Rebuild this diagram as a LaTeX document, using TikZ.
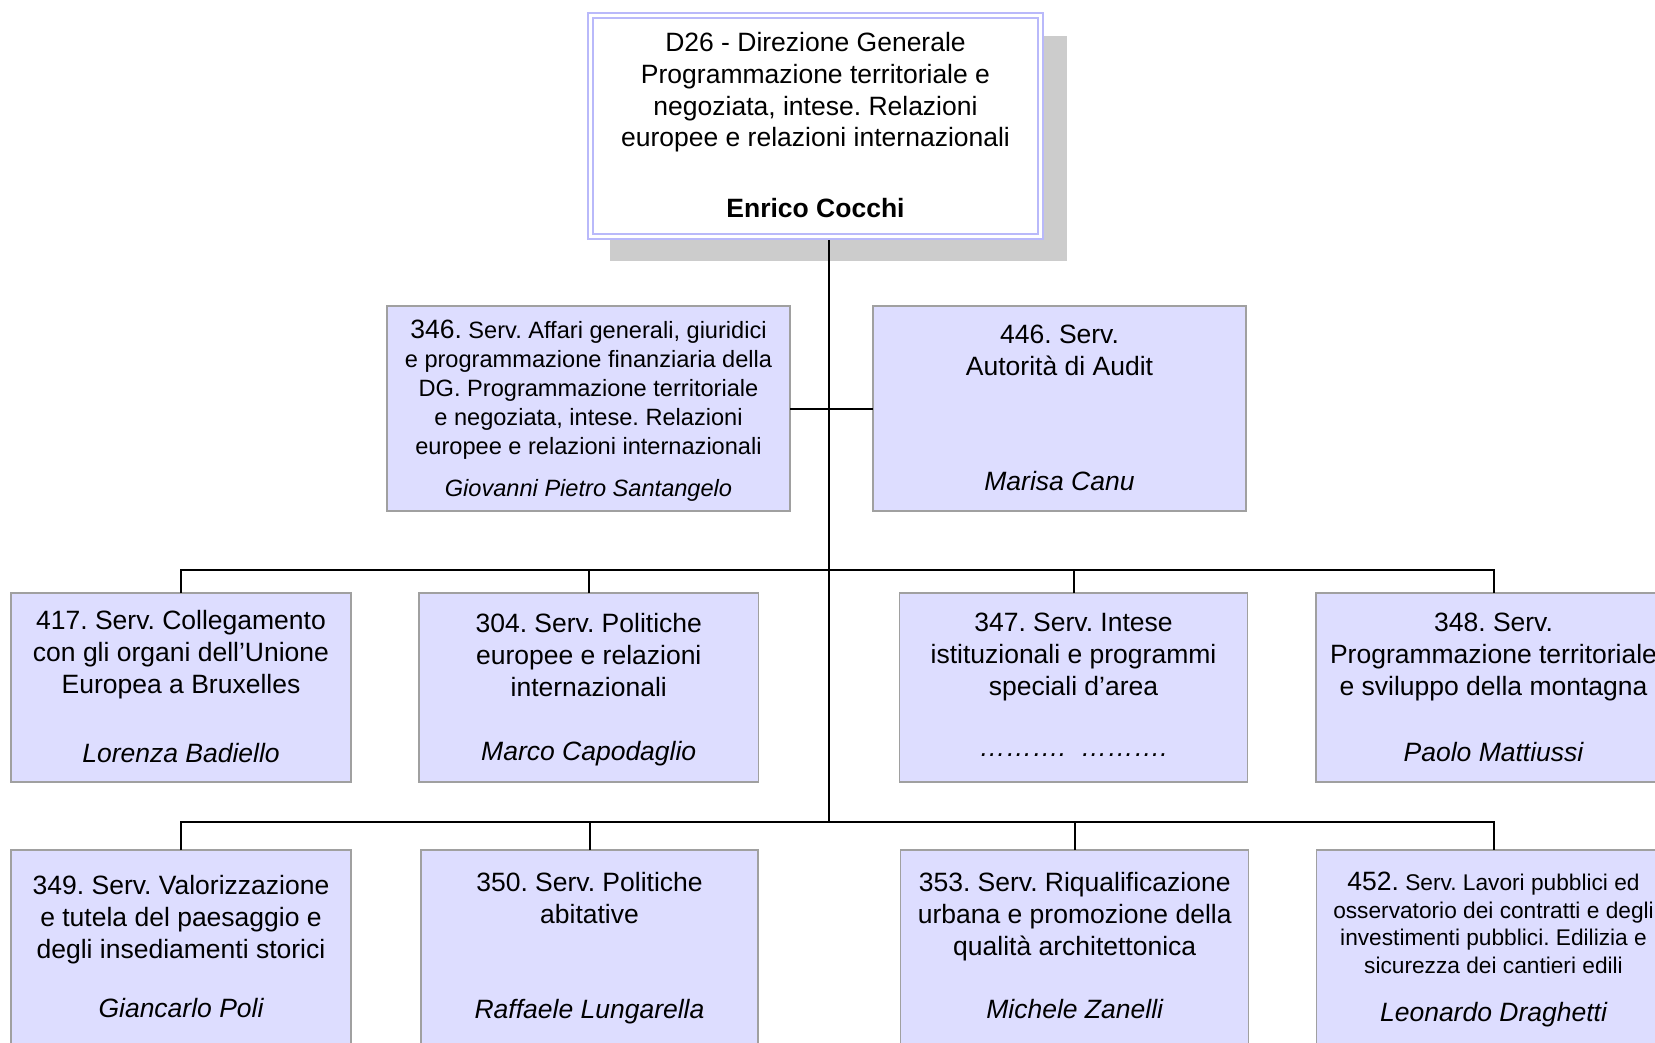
\documentclass[tikz,border=0pt]{standalone}
\usepackage{fontspec}
\setmainfont{Liberation Sans}
\frenchspacing
\usetikzlibrary{shadows}
\definecolor{unitfill}{RGB}{221,221,255}
\definecolor{unitline}{RGB}{160,160,160}
\definecolor{chiefline}{RGB}{185,185,250}
\definecolor{shadowgray}{RGB}{204,204,204}
\newcommand{\unitfont}{\fontsize{26.5}{31.8}\selectfont}
\newcommand{\notefont}{\fontsize{23.6}{29}\selectfont}
\newcommand{\finefont}{\fontsize{22.7}{27.8}\selectfont}
\tikzstyle{entry}=[draw=unitline, fill=unitfill, line width=1.5pt, inner sep=0pt, outer sep=0pt, anchor=north]
\tikzstyle{unit}=[entry, minimum width=340pt, minimum height=189pt]
\tikzstyle{lowunit}=[entry, minimum height=196pt]
\tikzstyle{chief}=[draw=chiefline, line width=2.3pt, double=white, double distance=2.4pt, fill=white, inner sep=0pt, outer sep=3.5pt, minimum width=450pt, minimum height=221pt, drop shadow={shadow xshift=23pt, shadow yshift=-22pt, shadow scale=1.016, fill=shadowgray, opacity=1}]
\tikzstyle{heading}=[anchor=north, align=center, inner sep=0pt, font=\unitfont]
\tikzstyle{holder}=[anchor=base, inner sep=0pt, font=\unitfont\itshape]
\tikzstyle{link}=[line width=2pt]

\begin{document}
\begin{tikzpicture}[x=1pt, y=-1pt]
\path[use as bounding box, fill=white] (0,0) rectangle (1655,1042);

\node (dg) [chief, label={[heading, yshift=-20pt]north:{D26 - Direzione Generale\\Programmazione territoriale e\\negoziata, intese. Relazioni\\europee e relazioni internazionali}}, label={[holder, font=\unitfont\bfseries, yshift=22.5pt]south:{Enrico Cocchi}}] at (815.5,126) {};

\node (s346) [entry, minimum width=403pt, minimum height=205pt, label={[heading, font=\notefont, yshift=-14pt]north:{{\unitfont 346.} Serv. Affari generali, giuridici\\e programmazione finanziaria della\\DG. Programmazione territoriale\\e negoziata, intese. Relazioni\\europee e relazioni internazionali}}, label={[holder, font=\notefont\itshape, yshift=15pt]south:{Giovanni Pietro Santangelo}}] at (588.5,306) {};
\node (s446) [entry, minimum width=373pt, minimum height=205pt, label={[heading, yshift=-19pt]north:{446. Serv.\\Autorità di Audit}}, label={[holder, yshift=20.5pt]south:{Marisa Canu}}] at (1059.5,306) {};

\node (s417) [unit, label={[heading, yshift=-17pt]north:{417. Serv. Collegamento\\con gli organi dell’Unione\\Europea a Bruxelles}}, label={[holder, yshift=20pt]south:{Lorenza Badiello}}] at (181,593) {};
\node (s304) [unit, minimum width=339.5pt, label={[heading, yshift=-20pt]north:{304. Serv. Politiche\\europee e relazioni\\internazionali}}, label={[holder, yshift=22pt]south:{Marco Capodaglio}}] at (588.75,593) {};
\node (s347) [unit, minimum width=348pt, label={[heading, yshift=-20pt]north:{347. Serv. Intese\\istituzionali e programmi\\speciali d’area}}, label={[holder, yshift=26pt]south:{………. \ ……….}}] at (1073.5,593) {};
\node (s348) [unit, minimum width=355pt, label={[heading, yshift=-20pt]north:{348. Serv.\\Programmazione territoriale\\e sviluppo della montagna}}, label={[holder, yshift=21pt]south:{Paolo Mattiussi}}] at (1493.5,593) {};

\node (s349) [lowunit, minimum width=340pt, label={[heading, yshift=-25pt]north:{349. Serv. Valorizzazione\\e tutela del paesaggio e\\degli insediamenti storici}}, label={[holder, yshift=29pt]south:{Giancarlo Poli}}] at (181,850) {};
\node (s350) [lowunit, minimum width=337pt, label={[heading, yshift=-22.5pt]north:{350. Serv. Politiche\\abitative}}, label={[holder, yshift=27.5pt]south:{Raffaele Lungarella}}] at (589.5,850) {};
\node (s353) [lowunit, minimum width=348pt, label={[heading, yshift=-22.5pt]north:{353. Serv. Riqualificazione\\urbana e promozione della\\qualità architettonica}}, label={[holder, yshift=27.5pt]south:{Michele Zanelli}}] at (1074.7,850) {};
\node (s452) [lowunit, minimum width=354pt, label={[heading, font=\finefont, yshift=-21.5pt]north:{{\unitfont 452.} Serv. Lavori pubblici ed\\osservatorio dei contratti e degli\\investimenti pubblici. Edilizia e\\sicurezza dei cantieri edili}}, label={[holder, yshift=25pt]south:{Leonardo Draghetti}}] at (1493.5,850) {};

\coordinate (bus) at (828.5,570);
\coordinate (hub) at (828.5,821.5);

\draw[link] (dg.south -| hub) -- (hub);
\draw[link] (s346.east) -- (s446.west);
\draw[link] (s417.north) |- (s348.north |- bus) -- (s348.north);
\draw[link] (s304.north) -- (s304.north |- bus);
\draw[link] (s347.north) -- (s347.north |- bus);
\draw[link] (s349.north) |- (s452.north |- hub) -- (s452.north);
\draw[link] (s350.north) -- (s350.north |- hub);
\draw[link] (s353.north) -- (s353.north |- hub);
\end{tikzpicture}
\end{document}
